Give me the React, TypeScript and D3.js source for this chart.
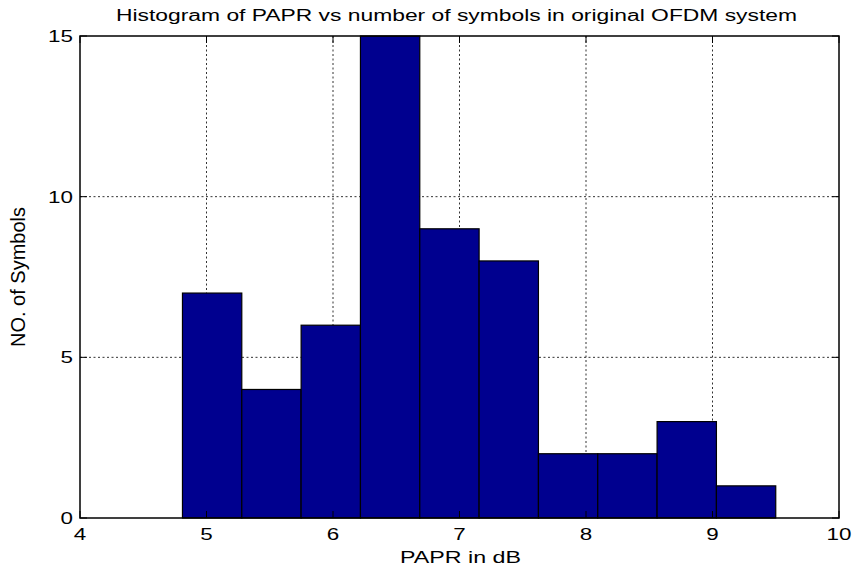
import React from "react";
import * as d3 from "d3";

// Histogram bins (PAPR in dB) and symbol counts per bin
const binEdges = [4.81, 5.279, 5.748, 6.217, 6.686, 7.155, 7.624, 8.093, 8.562, 9.031, 9.5];
const counts = [7, 4, 6, 15, 9, 8, 2, 2, 3, 1];
const xTicks = [4, 5, 6, 7, 8, 9, 10];
const yTicks = [0, 5, 10, 15];

const W = 853;
const H = 572;
const M = { left: 80, right: 839, top: 36, bottom: 518 };
const FONT = "'Liberation Sans', Arial, Helvetica, sans-serif";
// glyphs are drawn wide relative to their height
const SX = 1.4;

export default function App() {
  const x = d3.scaleLinear().domain([4, 10]).range([M.left, M.right]);
  const y = d3.scaleLinear().domain([0, 15]).range([M.bottom, M.top]);
  const tickLen = 7;

  return (
    <svg
      width={W}
      height={H}
      style={{ position: "absolute", left: 0, top: 0, background: "#fff" }}
      fontFamily={FONT}
    >
      <rect x={0} y={0} width={W} height={H} fill="#fff" />
      {/* grid */}
      {xTicks.slice(1, -1).map((t) => (
        <line
          key={"gx" + t}
          x1={x(t)}
          x2={x(t)}
          y1={M.top}
          y2={M.bottom}
          stroke="#333"
          strokeWidth={1}
          strokeDasharray="2,2.5"
        />
      ))}
      {yTicks.slice(1, -1).map((t) => (
        <line
          key={"gy" + t}
          x1={M.left}
          x2={M.right}
          y1={y(t)}
          y2={y(t)}
          stroke="#333"
          strokeWidth={1}
          strokeDasharray="2,2.5"
        />
      ))}
      {/* bars */}
      {counts.map((c, i) => (
        <rect
          key={"b" + i}
          x={x(binEdges[i])}
          y={y(c)}
          width={x(binEdges[i + 1]) - x(binEdges[i])}
          height={y(0) - y(c)}
          fill="#00008f"
          stroke="#000"
          strokeWidth={1.2}
        />
      ))}
      {/* ticks */}
      {xTicks.map((t) => (
        <g key={"tx" + t}>
          <line x1={x(t)} x2={x(t)} y1={M.bottom} y2={M.bottom - tickLen} stroke="#000" />
          <line x1={x(t)} x2={x(t)} y1={M.top} y2={M.top + tickLen} stroke="#000" />
          <text
            transform={`translate(${x(t)}, 540) scale(${SX}, 1)`}
            textAnchor="middle"
            fontSize={16}
            fill="#000"
          >
            {t}
          </text>
        </g>
      ))}
      {yTicks.map((t) => (
        <g key={"ty" + t}>
          <line x1={M.left} x2={M.left + tickLen} y1={y(t)} y2={y(t)} stroke="#000" />
          <line x1={M.right} x2={M.right - tickLen} y1={y(t)} y2={y(t)} stroke="#000" />
          <text
            transform={`translate(73, ${y(t) + 6}) scale(${SX}, 1)`}
            textAnchor="end"
            fontSize={16}
            fill="#000"
          >
            {t}
          </text>
        </g>
      ))}
      {/* axes box */}
      <rect
        x={M.left}
        y={M.top}
        width={M.right - M.left}
        height={M.bottom - M.top}
        fill="none"
        stroke="#000"
        strokeWidth={1.5}
      />
      {/* title and labels */}
      <text
        x={116}
        y={21}
        fontSize={16}
        fill="#000"
        textLength={681}
        lengthAdjust="spacingAndGlyphs"
      >
        Histogram of PAPR vs number of symbols in original OFDM system
      </text>
      <text
        x={400}
        y={563}
        fontSize={16}
        fill="#000"
        textLength={121}
        lengthAdjust="spacingAndGlyphs"
      >
        PAPR in dB
      </text>
      <text
        transform={`translate(25, ${(M.top + M.bottom) / 2}) scale(1.3, 1) rotate(-90)`}
        textAnchor="middle"
        fontSize={16}
        fill="#000"
        textLength={140}
        lengthAdjust="spacingAndGlyphs"
      >
        NO. of Symbols
      </text>
    </svg>
  );
}
